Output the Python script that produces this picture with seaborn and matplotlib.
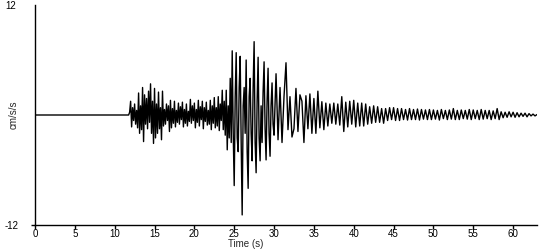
import matplotlib
matplotlib.use("Agg")
import matplotlib.pyplot as plt
import seaborn as sns
import pandas as pd

# ---- data ----
quiet_start = 0.0          # record start (s), flat trace until the event arrives

# strong-motion part, finer sampling
strong_start = 11.75
strong_dt = 0.125
strong = [
    0.0, 0.3,
    1.5, -1.3, 0.8, -0.6, 1.2, -1.0, 0.5, -1.4,     # 12
    2.4, -2.0, 1.0, -1.6, 3.0, -2.9, 2.2, -1.0,     # 13
    1.8, -1.5, 2.6, -0.8, 3.4, -2.0, 1.5, -3.1,     # 14
    2.9, -2.5, 1.2, -2.0, 2.5, -1.5, 0.8, -2.7,     # 15
    2.6, -1.2, 0.6, -1.0, 1.2, -0.6, 1.0, -1.8,     # 16
    1.6, -1.4, 0.7, -0.9, 1.5, -1.3, 0.5, -0.8,     # 17
    1.3, -1.0, 0.9, -0.5, 1.4, -1.3, 0.6, -0.9,     # 18
    1.2, -1.2, 0.4, -0.7, 1.7, -0.9, 1.0, -0.6,     # 19
    1.3, -1.4, 0.6, -0.8, 1.6, -1.2, 0.9, -0.5,     # 20
    1.5, -1.5, 0.8, -0.7, 1.4, -1.1, 0.5, -1.0,     # 21
    1.6, -1.6, 1.0, -0.9, 1.9, -1.4, 0.8, -1.2,     # 22
    2.0, -1.7, 1.2, -0.6, 2.7, -1.6, 1.5, -2.2,     # 23
    2.7, -3.8, 1.0, -2.5, 4.0, -3.0, 7.0, -2.0,     # 24
    -7.7, 2.0, 6.8, -2.5, -4.0, 3.0, 6.4, -3.0,     # 25
    -10.9, 1.0, 3.0, -2.0, 6.0, -4.0, -8.0, 2.0,    # 26
    4.0, -2.0, -5.0, 3.0, 8.0, -3.0, -6.3, 1.5,     # 27
    6.3, -2.5, -5.0, 1.0, -3.0, 2.5, 5.8, -1.5,     # 28
    -4.9, 1.5, 5.1, -2.0, -4.5, 1.0, 3.5, -1.0,     # 29
    -2.2,                                           # 30
]

# coda, coarser sampling
coda_start = 30.25
coda_dt = 0.25
coda = [
    4.5, -2.7, 3.0,           # 30
    -3.0, 2.0, 5.7, -1.6,     # 31
    2.0, -2.4, -1.5, 2.9,     # 32
    -1.8, 2.2, 1.5, -3.0,     # 33
    2.1, -1.5, 2.3, -2.0,     # 34
    1.8, -2.0, 2.6, -1.4,     # 35
    1.45, -1.6, 1.3, -1.2,    # 36
    1.2, -0.9, 1.3, -1.0,     # 37
    1.2, -1.1, 2.0, -1.8,     # 38
    1.4, -1.3, 1.5, -1.0,     # 39
    1.6, -1.3, 1.3, -1.2,     # 40
    1.3, -1.2, 1.2, -1.0,     # 41
    0.9, -0.9, 1.0, -0.8,     # 42
    0.9, -0.8, 0.7, -0.9,     # 43
    0.7, -0.6, 0.8, -0.5,     # 44
    0.8, -0.6, 0.7, -0.6,     # 45
    0.7, -0.5, 0.6, -0.55,    # 46
    0.7, -0.5, 0.6, -0.5,     # 47
    0.65, -0.55, 0.6, -0.45,  # 48
    0.55, -0.5, 0.6, -0.5,    # 49
    0.55, -0.45, 0.5, -0.55,  # 50
    0.6, -0.4, 0.5, -0.5,     # 51
    0.55, -0.45, 0.7, -0.5,   # 52
    0.5, -0.5, 0.55, -0.4,    # 53
    0.5, -0.45, 0.6, -0.5,    # 54
    0.55, -0.4, 0.5, -0.5,    # 55
    0.6, -0.45, 0.5, -0.4,    # 56
    0.5, -0.5, 0.45, -0.4,    # 57
    0.7, -0.5, 0.35, -0.3,    # 58
    0.3, -0.25, 0.35, -0.2,   # 59
    0.3, -0.25, 0.25, -0.2,   # 60
    0.2, -0.15, 0.2, -0.2,    # 61
    0.15, -0.1, 0.1, -0.1,    # 62
    0.05,                     # 63
]
x_ticks = [0, 5, 10, 15, 20, 25, 30, 35, 40, 45, 50, 55, 60]
y_ticks = [-12, 12]
x_label = "Time (s)"
y_label = "cm/s/s"

time = ([quiet_start]
        + [strong_start + strong_dt * i for i in range(len(strong))]
        + [coda_start + coda_dt * i for i in range(len(coda))])
values = [0.0] + strong + coda
df = pd.DataFrame({"time": time, "accel": values})

sns.set_style("ticks")
plt.rcParams["font.family"] = ["Liberation Sans", "DejaVu Sans"]

fig = plt.figure(figsize=(5.5, 2.5), dpi=100)
ax = fig.add_axes([35 / 550, 25 / 250, 502 / 550, 220 / 250])

sns.lineplot(data=df, x="time", y="accel", color="black", linewidth=1.0,
             ax=ax, estimator=None, sort=False)

ax.set_xlim(0, 63)
ax.set_ylim(-12, 12)
ax.set_xticks(x_ticks)
ax.set_yticks(y_ticks)
ax.set_yticklabels([str(v) for v in y_ticks], ha="left")
sns.despine(ax=ax)
for s in ("left", "bottom"):
    ax.spines[s].set_linewidth(1.0)
    ax.spines[s].set_color("black")
ax.tick_params(axis="x", labelsize=7, length=2.6, width=1.0, pad=0.3,
               colors="black")
ax.tick_params(axis="y", labelsize=7, length=3.2, width=1.0, pad=18.5,
               colors="black")
ax.yaxis.get_major_ticks()[1].tick1line.set_visible(False)

ax.set_xlabel(x_label, fontsize=7, labelpad=0)
ax.set_ylabel(y_label, fontsize=7, labelpad=0)
ax.xaxis.set_label_coords(0.419, -0.0655)
ax.yaxis.set_label_coords(-0.032, 0.5)

fig.savefig("out.png", dpi=100)
